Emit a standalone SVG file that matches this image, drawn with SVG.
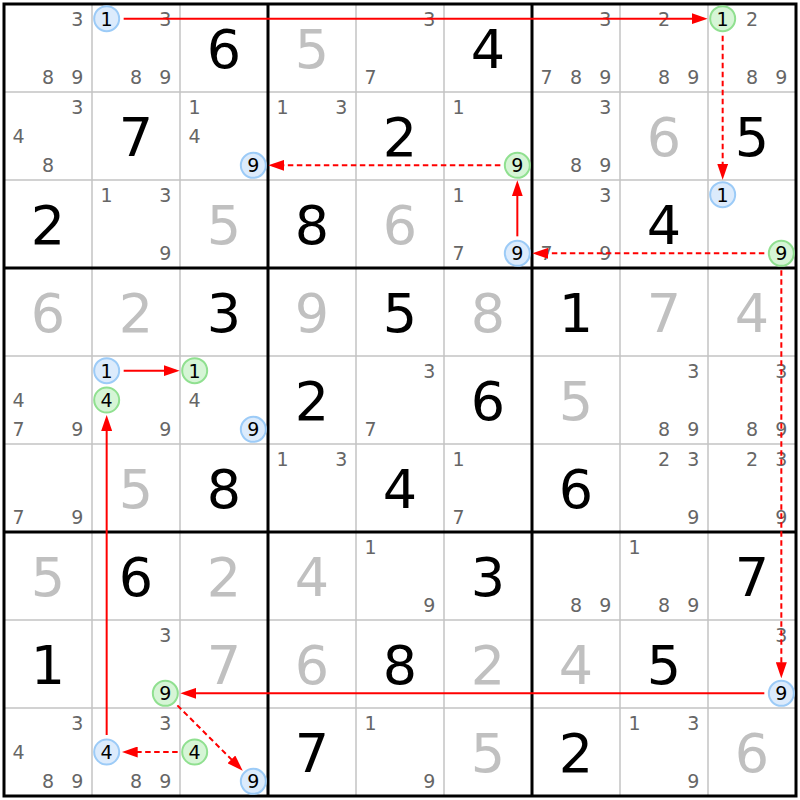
<svg xmlns="http://www.w3.org/2000/svg" width="800" height="800" viewBox="0 0 800 800">
<style>
text{font-family:"DejaVu Sans",Verdana,sans-serif;text-anchor:middle}
.c{font-size:19px;fill:#666}
.g{font-size:54px;fill:#000}
.s{font-size:54px;fill:#c0c0c0}
.k{font-size:19px;fill:#000}
.b{fill:#dcebfc;stroke:#9ccbf7;stroke-width:2}
.n{fill:#d6f5d6;stroke:#90e090;stroke-width:2}
.thin{stroke:#c4c4c4;stroke-width:1.5}
.thick{stroke:#000;stroke-width:3}
.ln{stroke:#f00;stroke-width:2;fill:none;marker-end:url(#ah)}
.d{stroke-dasharray:5.5,3.5}
</style>
<defs>
<marker id="ah" markerWidth="16" markerHeight="11" refX="12" refY="5.5" orient="auto" markerUnits="userSpaceOnUse"><path d="M0,0 L16,5.5 L0,11 z" fill="#f00"/></marker>
</defs>
<rect x="0" y="0" width="800" height="800" fill="#fff"/>
<g id="grid">
<path class="thin" d="M92,4V796M180,4V796M356,4V796M444,4V796M620,4V796M708,4V796M4,92H796M4,180H796M4,356H796M4,444H796M4,620H796M4,708H796"/>
<path class="thick" d="M268,4V796M532,4V796M4,268H796M4,532H796"/>
<rect x="4" y="4" width="792" height="792" fill="none" stroke="#000" stroke-width="3"/>
</g>
<g id="cells">
<!-- row 0 -->
<g id="r0c0" transform="translate(4,4)"><text class="c" x="73.33" y="21.5">3</text><text class="c" x="44" y="80.2">8</text><text class="c" x="73.33" y="80.2">9</text></g>
<g id="r0c1" transform="translate(92,4)"><circle class="b" cx="14.67" cy="14.67" r="12.5"/><text class="k" x="14.67" y="21.5">1</text><text class="c" x="73.33" y="21.5">3</text><text class="c" x="44" y="80.2">8</text><text class="c" x="73.33" y="80.2">9</text></g>
<g id="r0c2" transform="translate(180,4)"><text class="g" x="44" y="63.8">6</text></g>
<g id="r0c3" transform="translate(268,4)"><text class="s" x="44" y="63.8">5</text></g>
<g id="r0c4" transform="translate(356,4)"><text class="c" x="73.33" y="21.5">3</text><text class="c" x="14.67" y="80.2">7</text></g>
<g id="r0c5" transform="translate(444,4)"><text class="g" x="44" y="63.8">4</text></g>
<g id="r0c6" transform="translate(532,4)"><text class="c" x="73.33" y="21.5">3</text><text class="c" x="14.67" y="80.2">7</text><text class="c" x="44" y="80.2">8</text><text class="c" x="73.33" y="80.2">9</text></g>
<g id="r0c7" transform="translate(620,4)"><text class="c" x="44" y="21.5">2</text><text class="c" x="44" y="80.2">8</text><text class="c" x="73.33" y="80.2">9</text></g>
<g id="r0c8" transform="translate(708,4)"><circle class="n" cx="14.67" cy="14.67" r="12.5"/><text class="k" x="14.67" y="21.5">1</text><text class="c" x="44" y="21.5">2</text><text class="c" x="44" y="80.2">8</text><text class="c" x="73.33" y="80.2">9</text></g>
<!-- row 1 -->
<g id="r1c0" transform="translate(4,92)"><text class="c" x="73.33" y="21.5">3</text><text class="c" x="14.67" y="50.9">4</text><text class="c" x="44" y="80.2">8</text></g>
<g id="r1c1" transform="translate(92,92)"><text class="g" x="44" y="63.8">7</text></g>
<g id="r1c2" transform="translate(180,92)"><text class="c" x="14.67" y="21.5">1</text><text class="c" x="14.67" y="50.9">4</text><circle class="b" cx="73.33" cy="73.33" r="12.5"/><text class="k" x="73.33" y="80.2">9</text></g>
<g id="r1c3" transform="translate(268,92)"><text class="c" x="14.67" y="21.5">1</text><text class="c" x="73.33" y="21.5">3</text></g>
<g id="r1c4" transform="translate(356,92)"><text class="g" x="44" y="63.8">2</text></g>
<g id="r1c5" transform="translate(444,92)"><text class="c" x="14.67" y="21.5">1</text><circle class="n" cx="73.33" cy="73.33" r="12.5"/><text class="k" x="73.33" y="80.2">9</text></g>
<g id="r1c6" transform="translate(532,92)"><text class="c" x="73.33" y="21.5">3</text><text class="c" x="44" y="80.2">8</text><text class="c" x="73.33" y="80.2">9</text></g>
<g id="r1c7" transform="translate(620,92)"><text class="s" x="44" y="63.8">6</text></g>
<g id="r1c8" transform="translate(708,92)"><text class="g" x="44" y="63.8">5</text></g>
<!-- row 2 -->
<g id="r2c0" transform="translate(4,180)"><text class="g" x="44" y="63.8">2</text></g>
<g id="r2c1" transform="translate(92,180)"><text class="c" x="14.67" y="21.5">1</text><text class="c" x="73.33" y="21.5">3</text><text class="c" x="73.33" y="80.2">9</text></g>
<g id="r2c2" transform="translate(180,180)"><text class="s" x="44" y="63.8">5</text></g>
<g id="r2c3" transform="translate(268,180)"><text class="g" x="44" y="63.8">8</text></g>
<g id="r2c4" transform="translate(356,180)"><text class="s" x="44" y="63.8">6</text></g>
<g id="r2c5" transform="translate(444,180)"><text class="c" x="14.67" y="21.5">1</text><text class="c" x="14.67" y="80.2">7</text><circle class="b" cx="73.33" cy="73.33" r="12.5"/><text class="k" x="73.33" y="80.2">9</text></g>
<g id="r2c6" transform="translate(532,180)"><text class="c" x="73.33" y="21.5">3</text><text class="c" x="14.67" y="80.2">7</text><text class="c" x="73.33" y="80.2">9</text></g>
<g id="r2c7" transform="translate(620,180)"><text class="g" x="44" y="63.8">4</text></g>
<g id="r2c8" transform="translate(708,180)"><circle class="b" cx="14.67" cy="14.67" r="12.5"/><text class="k" x="14.67" y="21.5">1</text><circle class="n" cx="73.33" cy="73.33" r="12.5"/><text class="k" x="73.33" y="80.2">9</text></g>
<!-- row 3 -->
<g id="r3c0" transform="translate(4,268)"><text class="s" x="44" y="63.8">6</text></g>
<g id="r3c1" transform="translate(92,268)"><text class="s" x="44" y="63.8">2</text></g>
<g id="r3c2" transform="translate(180,268)"><text class="g" x="44" y="63.8">3</text></g>
<g id="r3c3" transform="translate(268,268)"><text class="s" x="44" y="63.8">9</text></g>
<g id="r3c4" transform="translate(356,268)"><text class="g" x="44" y="63.8">5</text></g>
<g id="r3c5" transform="translate(444,268)"><text class="s" x="44" y="63.8">8</text></g>
<g id="r3c6" transform="translate(532,268)"><text class="g" x="44" y="63.8">1</text></g>
<g id="r3c7" transform="translate(620,268)"><text class="s" x="44" y="63.8">7</text></g>
<g id="r3c8" transform="translate(708,268)"><text class="s" x="44" y="63.8">4</text></g>
<!-- row 4 -->
<g id="r4c0" transform="translate(4,356)"><text class="c" x="14.67" y="50.9">4</text><text class="c" x="14.67" y="80.2">7</text><text class="c" x="73.33" y="80.2">9</text></g>
<g id="r4c1" transform="translate(92,356)"><circle class="b" cx="14.67" cy="14.67" r="12.5"/><text class="k" x="14.67" y="21.5">1</text><circle class="n" cx="14.67" cy="44" r="12.5"/><text class="k" x="14.67" y="50.9">4</text><text class="c" x="73.33" y="80.2">9</text></g>
<g id="r4c2" transform="translate(180,356)"><circle class="n" cx="14.67" cy="14.67" r="12.5"/><text class="k" x="14.67" y="21.5">1</text><text class="c" x="14.67" y="50.9">4</text><circle class="b" cx="73.33" cy="73.33" r="12.5"/><text class="k" x="73.33" y="80.2">9</text></g>
<g id="r4c3" transform="translate(268,356)"><text class="g" x="44" y="63.8">2</text></g>
<g id="r4c4" transform="translate(356,356)"><text class="c" x="73.33" y="21.5">3</text><text class="c" x="14.67" y="80.2">7</text></g>
<g id="r4c5" transform="translate(444,356)"><text class="g" x="44" y="63.8">6</text></g>
<g id="r4c6" transform="translate(532,356)"><text class="s" x="44" y="63.8">5</text></g>
<g id="r4c7" transform="translate(620,356)"><text class="c" x="73.33" y="21.5">3</text><text class="c" x="44" y="80.2">8</text><text class="c" x="73.33" y="80.2">9</text></g>
<g id="r4c8" transform="translate(708,356)"><text class="c" x="73.33" y="21.5">3</text><text class="c" x="44" y="80.2">8</text><text class="c" x="73.33" y="80.2">9</text></g>
<!-- row 5 -->
<g id="r5c0" transform="translate(4,444)"><text class="c" x="14.67" y="80.2">7</text><text class="c" x="73.33" y="80.2">9</text></g>
<g id="r5c1" transform="translate(92,444)"><text class="s" x="44" y="63.8">5</text></g>
<g id="r5c2" transform="translate(180,444)"><text class="g" x="44" y="63.8">8</text></g>
<g id="r5c3" transform="translate(268,444)"><text class="c" x="14.67" y="21.5">1</text><text class="c" x="73.33" y="21.5">3</text></g>
<g id="r5c4" transform="translate(356,444)"><text class="g" x="44" y="63.8">4</text></g>
<g id="r5c5" transform="translate(444,444)"><text class="c" x="14.67" y="21.5">1</text><text class="c" x="14.67" y="80.2">7</text></g>
<g id="r5c6" transform="translate(532,444)"><text class="g" x="44" y="63.8">6</text></g>
<g id="r5c7" transform="translate(620,444)"><text class="c" x="44" y="21.5">2</text><text class="c" x="73.33" y="21.5">3</text><text class="c" x="73.33" y="80.2">9</text></g>
<g id="r5c8" transform="translate(708,444)"><text class="c" x="44" y="21.5">2</text><text class="c" x="73.33" y="21.5">3</text><text class="c" x="73.33" y="80.2">9</text></g>
<!-- row 6 -->
<g id="r6c0" transform="translate(4,532)"><text class="s" x="44" y="63.8">5</text></g>
<g id="r6c1" transform="translate(92,532)"><text class="g" x="44" y="63.8">6</text></g>
<g id="r6c2" transform="translate(180,532)"><text class="s" x="44" y="63.8">2</text></g>
<g id="r6c3" transform="translate(268,532)"><text class="s" x="44" y="63.8">4</text></g>
<g id="r6c4" transform="translate(356,532)"><text class="c" x="14.67" y="21.5">1</text><text class="c" x="73.33" y="80.2">9</text></g>
<g id="r6c5" transform="translate(444,532)"><text class="g" x="44" y="63.8">3</text></g>
<g id="r6c6" transform="translate(532,532)"><text class="c" x="44" y="80.2">8</text><text class="c" x="73.33" y="80.2">9</text></g>
<g id="r6c7" transform="translate(620,532)"><text class="c" x="14.67" y="21.5">1</text><text class="c" x="44" y="80.2">8</text><text class="c" x="73.33" y="80.2">9</text></g>
<g id="r6c8" transform="translate(708,532)"><text class="g" x="44" y="63.8">7</text></g>
<!-- row 7 -->
<g id="r7c0" transform="translate(4,620)"><text class="g" x="44" y="63.8">1</text></g>
<g id="r7c1" transform="translate(92,620)"><text class="c" x="73.33" y="21.5">3</text><circle class="n" cx="73.33" cy="73.33" r="12.5"/><text class="k" x="73.33" y="80.2">9</text></g>
<g id="r7c2" transform="translate(180,620)"><text class="s" x="44" y="63.8">7</text></g>
<g id="r7c3" transform="translate(268,620)"><text class="s" x="44" y="63.8">6</text></g>
<g id="r7c4" transform="translate(356,620)"><text class="g" x="44" y="63.8">8</text></g>
<g id="r7c5" transform="translate(444,620)"><text class="s" x="44" y="63.8">2</text></g>
<g id="r7c6" transform="translate(532,620)"><text class="s" x="44" y="63.8">4</text></g>
<g id="r7c7" transform="translate(620,620)"><text class="g" x="44" y="63.8">5</text></g>
<g id="r7c8" transform="translate(708,620)"><text class="c" x="73.33" y="21.5">3</text><circle class="b" cx="73.33" cy="73.33" r="12.5"/><text class="k" x="73.33" y="80.2">9</text></g>
<!-- row 8 -->
<g id="r8c0" transform="translate(4,708)"><text class="c" x="73.33" y="21.5">3</text><text class="c" x="14.67" y="50.9">4</text><text class="c" x="44" y="80.2">8</text><text class="c" x="73.33" y="80.2">9</text></g>
<g id="r8c1" transform="translate(92,708)"><text class="c" x="73.33" y="21.5">3</text><circle class="b" cx="14.67" cy="44" r="12.5"/><text class="k" x="14.67" y="50.9">4</text><text class="c" x="44" y="80.2">8</text><text class="c" x="73.33" y="80.2">9</text></g>
<g id="r8c2" transform="translate(180,708)"><circle class="n" cx="14.67" cy="44" r="12.5"/><text class="k" x="14.67" y="50.9">4</text><circle class="b" cx="73.33" cy="73.33" r="12.5"/><text class="k" x="73.33" y="80.2">9</text></g>
<g id="r8c3" transform="translate(268,708)"><text class="g" x="44" y="63.8">7</text></g>
<g id="r8c4" transform="translate(356,708)"><text class="c" x="14.67" y="21.5">1</text><text class="c" x="73.33" y="80.2">9</text></g>
<g id="r8c5" transform="translate(444,708)"><text class="s" x="44" y="63.8">5</text></g>
<g id="r8c6" transform="translate(532,708)"><text class="g" x="44" y="63.8">2</text></g>
<g id="r8c7" transform="translate(620,708)"><text class="c" x="14.67" y="21.5">1</text><text class="c" x="73.33" y="21.5">3</text><text class="c" x="73.33" y="80.2">9</text></g>
<g id="r8c8" transform="translate(708,708)"><text class="s" x="44" y="63.8">6</text></g>
</g>
<g id="connectors">
<line class="ln" x1="123.67" y1="18.67" x2="703.67" y2="18.67"/>
<line class="ln d" x1="722.67" y1="35.67" x2="722.67" y2="175.67"/>
<line class="ln d" x1="764.33" y1="253.33" x2="536.33" y2="253.33"/>
<line class="ln" x1="517.33" y1="236.33" x2="517.33" y2="184.33"/>
<line class="ln d" x1="500.33" y1="165.33" x2="272.33" y2="165.33"/>
<line class="ln d" x1="781.33" y1="270.33" x2="781.33" y2="674.33"/>
<line class="ln" x1="764.33" y1="693.33" x2="184.33" y2="693.33"/>
<line class="ln d" x1="177.35" y1="705.35" x2="239.9" y2="767.9"/>
<line class="ln d" x1="177.67" y1="752" x2="125.67" y2="752"/>
<line class="ln" x1="106.67" y1="735" x2="106.67" y2="419"/>
<line class="ln" x1="123.67" y1="370.67" x2="175.67" y2="370.67"/>
</g>
</svg>
